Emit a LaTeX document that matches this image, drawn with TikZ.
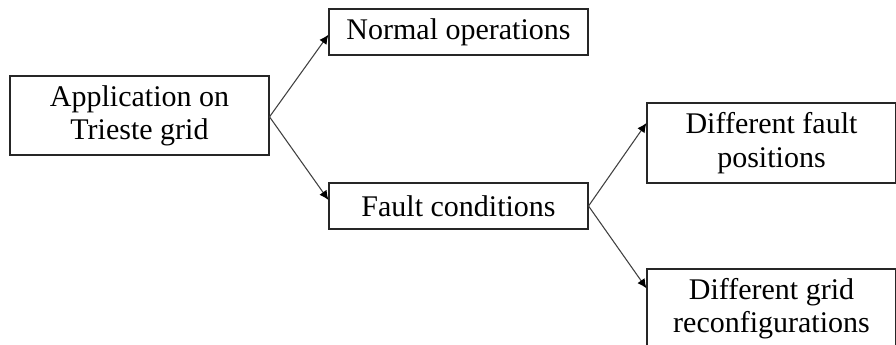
\documentclass[tikz,border=0pt]{standalone}
\usepackage{fontspec}
\setmainfont{Liberation Serif}
\usetikzlibrary{arrows.meta}
\begin{document}
\begin{tikzpicture}[x=0.75pt,y=-0.75pt,
  box/.style={draw=black!85,line width=0.8pt,align=center,inner sep=0pt,
    font=\fontsize{22.5}{25}\selectfont},
  link/.style={draw=black!75,line width=0.8pt,-{Latex[length=7pt,width=6.5pt,black]}}]
\useasboundingbox (0,0) rectangle (896,345);
\clip (0,0) rectangle (896,345);
% boxes
\node[box,minimum width=194.25pt,minimum height=59.25pt] (app) at (139.5,115.5) {Application on\\Trieste grid};
\node[box,minimum width=194.25pt,minimum height=34.5pt] (normal) at (458.5,32) {Normal operations};
\node[box,minimum width=194.25pt,minimum height=34.5pt] (fault) at (458.5,206) {Fault conditions};
\node[box,minimum width=186.75pt,minimum height=60pt] (pos) at (771.5,143) {Different fault\\positions};
\node[box,minimum width=186.75pt,minimum height=60pt] (reconf) at (771.5,309) {Different grid\\reconfigurations};
% connectors
\draw[link] ([yshift=-1pt]app.east) -- ([yshift=-2pt]normal.west);
\draw[link] ([yshift=-1pt]app.east) -- ([yshift=4.5pt]fault.west);
\draw[link] (fault.east) -- ([yshift=15pt]pos.west);
\draw[link] (fault.east) -- ([yshift=15.5pt]reconf.west);
\end{tikzpicture}
\end{document}
